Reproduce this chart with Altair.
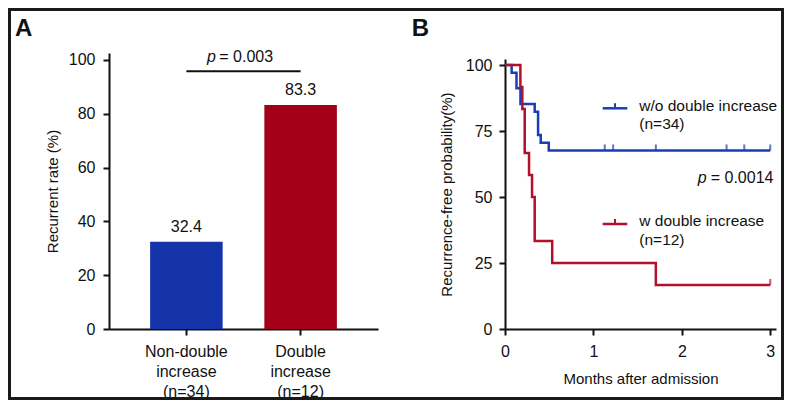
import altair as alt
import pandas as pd

FONT = "Liberation Sans, Arial, Helvetica, sans-serif"
NARROW = "Liberation Sans Narrow, Arial Narrow, Liberation Sans, Arial, sans-serif"
INK = "#111111"

# ---------------- Panel A data ----------------
groups = ["Non-double\nincrease\n(n=34)", "Double\nincrease\n(n=12)"]
rates = [32.4, 83.3]
bar_colors = ["#1634AA", "#A30018"]
a_ticks = [0, 20, 40, 60, 80, 100]
p_a_text = "= 0.003"
p_a_level = 95.8

# ---------------- Panel B data ----------------
series = ["w/o double increase", "w double increase"]
series_n = ["(n=34)", "(n=12)"]
line_colors = ["#1B3DB5", "#B3102B"]
blue_t = [0, 0.075, 0.13, 0.175, 0.336, 0.374, 0.404, 0.495, 3.0]
blue_s = [100, 97.06, 91.18, 85.29, 82.35, 73.53, 70.59, 67.65, 67.65]
blue_cens_t = [1.128, 1.223, 1.706, 2.506, 2.706, 3.0]
blue_cens_s = [67.65, 67.65, 67.65, 67.65, 67.65, 67.65]
red_t = [0, 0.174, 0.196, 0.223, 0.272, 0.306, 0.336, 0.534, 1.706, 3.0]
red_s = [100, 91.67, 83.33, 66.67, 58.33, 50.0, 33.33, 25.0, 16.67, 16.67]
red_cens_t = [3.0]
red_cens_s = [16.67]
b_ticks_x = [0, 1, 2, 3]
b_ticks_y = [0, 25, 50, 75, 100]
p_b_text = "= 0.0014"


def one(text="x"):
    return alt.Chart(pd.DataFrame({"t": [text]}))


def label(text, x, y, size=16, align="left", style="normal", weight="normal", font=FONT):
    return one(text).mark_text(
        align=align, baseline="alphabetic", fontSize=size, fontStyle=style,
        fontWeight=weight, font=font, color=INK
    ).encode(text="t:N", x=alt.value(x), y=alt.value(y))


# ---------------- Panel A ----------------
dfA = pd.DataFrame({"group": groups, "rate": rates, "color": bar_colors})
xA = alt.X(
    "group:N", sort=groups,
    scale=alt.Scale(paddingInner=0.365, paddingOuter=0.36),
    axis=alt.Axis(title=None, labelAngle=0, labelExpr="split(datum.label, '\\n')",
                  labelLineHeight=20, labelBaseline="alphabetic", labelPadding=21.5),
)
yA = alt.Y(
    "rate:Q", scale=alt.Scale(domain=[0, 102.6], nice=False),
    axis=alt.Axis(values=a_ticks, title="Recurrent rate (%)", titleX=-52,
                  titleBaseline="alphabetic", labelPadding=8),
)
bars = alt.Chart(dfA).mark_bar().encode(x=xA, y=yA, color=alt.Color("color:N", scale=None))
vals = alt.Chart(dfA).mark_text(baseline="alphabetic", dy=-9.5, fontSize=16, font=FONT, color=INK).encode(
    x=xA, y=yA, text=alt.Text("rate:Q", format=".1f"))
dfAp = pd.DataFrame({"group": groups, "rate": [p_a_level] * 2})
bracket = alt.Chart(dfAp).mark_line(color=INK, strokeWidth=2).encode(x=xA, y=yA)

border = one().mark_rect(fill="white", fillOpacity=0, stroke="#1a1a1a", strokeWidth=3).encode(
    x=alt.value(-99.5), x2=alt.value(673.5), y=alt.value(-43.5), y2=alt.value(345.5))

panelA = alt.layer(
    border, bars, vals, bracket,
    label("p", 107, 9.3, align="right", style="italic"),
    label(p_a_text, 110.3, 9.3),
    label("A", -94, -17, size=24, weight="bold"),
).properties(width=269, height=276)

# ---------------- Panel B ----------------
rows = []
for name, ts, ss in [(series[0], blue_t, blue_s), (series[1], red_t, red_s)]:
    rows += [{"series": name, "t": t, "s": s} for t, s in zip(ts, ss)]
dfB = pd.DataFrame(rows)
crow = []
for name, ts, ss in [(series[0], blue_cens_t, blue_cens_s), (series[1], red_cens_t, red_cens_s)]:
    crow += [{"series": name, "t": t, "s": s} for t, s in zip(ts, ss)]
dfC = pd.DataFrame(crow)

xB = alt.X(
    "t:Q", scale=alt.Scale(domain=[0, 3.065], nice=False),
    axis=alt.Axis(values=b_ticks_x, format="d", title="Months after admission", titleY=54.3,
                  titleBaseline="alphabetic", labelBaseline="alphabetic", labelPadding=21,
                  labelFlush=False),
)
yB = alt.Y(
    "s:Q", scale=alt.Scale(domain=[0, 102.3], range=[276, 6], nice=False),
    axis=alt.Axis(values=b_ticks_y, title="Recurrence-free probability(%)", titleX=-53.3,
                  titleBaseline="alphabetic", labelPadding=7),
)
cB = alt.Color("series:N", scale=alt.Scale(domain=series, range=line_colors), legend=None)
curves = alt.Chart(dfB).mark_line(interpolate="step-after", strokeWidth=2.5).encode(x=xB, y=yB, color=cB)
cens = alt.Chart(dfC).mark_tick(orient="vertical", size=6, thickness=2, yOffset=-3).encode(
    x=xB, y=yB, color=cB)

legend_layers = []
for name, col, ntext, ys in zip(series, line_colors, series_n, [55.3, 171.0]):
    legend_layers.append(one().mark_rule(color=col, strokeWidth=2.5).encode(
        x=alt.value(97.7), x2=alt.value(122.3), y=alt.value(ys)))
    legend_layers.append(one().mark_rule(color=col, strokeWidth=2).encode(
        x=alt.value(110), y=alt.value(ys - 5), y2=alt.value(ys)))
    legend_layers.append(label(name, 134.3, ys + 2.4, size=15.5))
    legend_layers.append(label(ntext, 134.3, ys + 21, size=15.5))

panelB = alt.layer(
    curves, cens, *legend_layers,
    label("p", 201.7, 129.7, align="right", style="italic"),
    label(p_b_text, 205.7, 129.7),
    label("B", -93.3, -17, size=24, weight="bold"),
).properties(width=271, height=276)

chart = alt.hconcat(panelA, panelB, spacing=127, bounds="flush", padding=0).configure_view(
    stroke=None
).configure_axis(
    domainColor=INK, domainWidth=2, tickColor=INK, tickWidth=2, tickSize=6,
    labelColor=INK, labelFont=FONT, labelFontSize=16,
    titleColor=INK, titleFont=NARROW, titleFontSize=15, titleFontWeight="normal", grid=False,
)

chart.save("out.html", embed_options={"renderer": "svg", "actions": False})
